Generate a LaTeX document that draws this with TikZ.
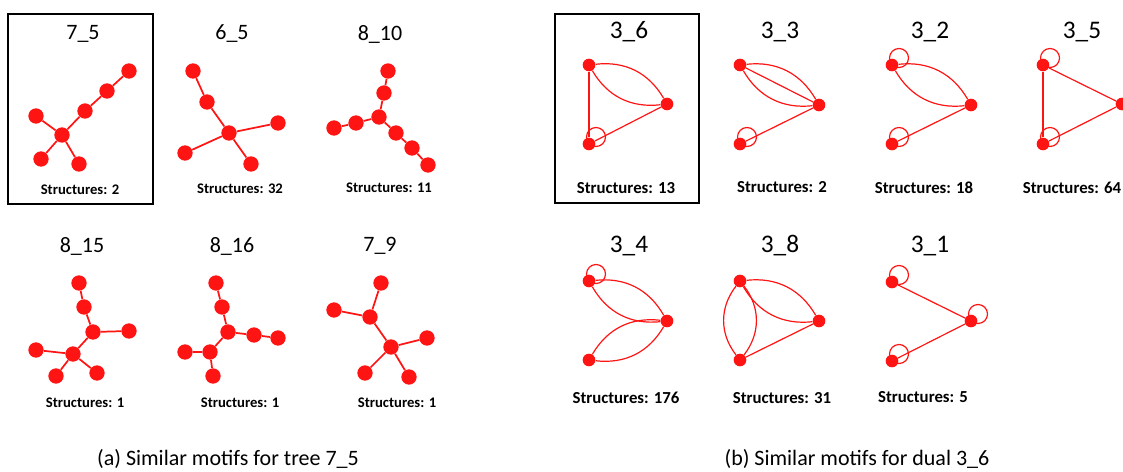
\documentclass[tikz,border=0pt]{standalone}
\usepackage{fontspec}
\setmainfont{Carlito}
\usepackage{tikz}
\usetikzlibrary{positioning}
\definecolor{motifred}{RGB}{255,20,20}
\tikzset{
  treenode/.style={circle,fill=motifred,draw=none,minimum size=11.5pt,inner sep=0pt},
  treeedge/.style={motifred,line width=1.3pt},
  dualnode/.style={circle,fill=motifred,draw=none,minimum size=9.5pt,inner sep=0pt},
  dualedge/.style={motifred,line width=0.9pt},
  selfloop/.style={motifred,line width=0.9pt},
  motiftitle/.style={font=\fontsize{16.5}{19}\selectfont,inner sep=0pt},
  dualtitle/.style={font=\fontsize{19}{22}\selectfont,inner sep=0pt},
  structcount/.style={font=\bfseries\fontsize{11}{13}\selectfont,inner sep=0pt},
  dualcount/.style={font=\bfseries\fontsize{12.6}{15}\selectfont,inner sep=0pt},
  subcaption/.style={font=\fontsize{16.5}{19}\selectfont,inner sep=0pt},
  framebox/.style={draw=black,line width=0.9pt}
}

\begin{document}
\begin{tikzpicture}[x=0.75pt,y=-0.75pt]
  \useasboundingbox (0,0) rectangle (1123,471);
  % tree 7_5
  \draw[framebox] (8,14) rectangle (153,204);
  \node[motiftitle] (lab75) at (83,34) {7\_5};
  \node[treenode] (a1) at (129,71) {};
  \node[treenode] (a2) at (107,91) {};
  \node[treenode] (a3) at (85,111) {};
  \node[treenode] (a4) at (62,135) {};
  \node[treenode] (a5) at (36,116) {};
  \node[treenode] (a6) at (41,159) {};
  \node[treenode] (a7) at (79,164) {};
  \draw[treeedge] (a1) -- (a2) -- (a3) -- (a4);
  \draw[treeedge] (a4) -- (a5);
  \draw[treeedge] (a4) -- (a6);
  \draw[treeedge] (a4) -- (a7);
  \node[structcount] (cnt75) at (80,190) {Structures: 2};
  % tree 6_5
  \node[motiftitle] (lab65) at (232,34) {6\_5};
  \node[treenode] (b1) at (193,71) {};
  \node[treenode] (b2) at (207,102) {};
  \node[treenode] (b3) at (229,133) {};
  \node[treenode] (b4) at (278,123) {};
  \node[treenode] (b5) at (185,153) {};
  \node[treenode] (b6) at (251,164) {};
  \draw[treeedge] (b1) -- (b2) -- (b3);
  \draw[treeedge] (b3) -- (b4);
  \draw[treeedge] (b3) -- (b5);
  \draw[treeedge] (b3) -- (b6);
  \node[structcount] (cnt65) at (240,189) {Structures: 32};
  % tree 8_10
  \node[motiftitle] (lab810) at (380,34) {8\_10};
  \node[treenode] (c1) at (388,71) {};
  \node[treenode] (c2) at (384,93) {};
  \node[treenode] (c3) at (379,117) {};
  \node[treenode] (c4) at (356,123) {};
  \node[treenode] (c5) at (334,128) {};
  \node[treenode] (c6) at (396,133) {};
  \node[treenode] (c7) at (412,148) {};
  \node[treenode] (c8) at (428,165) {};
  \draw[treeedge] (c1) -- (c2) -- (c3);
  \draw[treeedge] (c3) -- (c4) -- (c5);
  \draw[treeedge] (c3) -- (c6) -- (c7) -- (c8);
  \node[structcount] (cnt810) at (389,188) {Structures: 11};
  % tree 8_15
  \node[motiftitle] (lab815) at (82,246) {8\_15};
  \node[treenode] (d1) at (79,283) {};
  \node[treenode] (d2) at (84,307) {};
  \node[treenode] (d3) at (93,332) {};
  \node[treenode] (d4) at (129,331) {};
  \node[treenode] (d5) at (73,354) {};
  \node[treenode] (d6) at (36,350) {};
  \node[treenode] (d7) at (56,376) {};
  \node[treenode] (d8) at (97,373) {};
  \draw[treeedge] (d1) -- (d2) -- (d3);
  \draw[treeedge] (d3) -- (d4);
  \draw[treeedge] (d3) -- (d5);
  \draw[treeedge] (d5) -- (d6);
  \draw[treeedge] (d5) -- (d7);
  \draw[treeedge] (d5) -- (d8);
  \node[structcount] (cnt815) at (85,403) {Structures: 1};
  % tree 8_16
  \node[motiftitle] (lab816) at (232,246) {8\_16};
  \node[treenode] (e1) at (216,283) {};
  \node[treenode] (e2) at (222,307) {};
  \node[treenode] (e3) at (228,332) {};
  \node[treenode] (e4) at (254,335) {};
  \node[treenode] (e5) at (278,338) {};
  \node[treenode] (e6) at (210,352) {};
  \node[treenode] (e7) at (185,352) {};
  \node[treenode] (e8) at (213,376) {};
  \draw[treeedge] (e1) -- (e2) -- (e3);
  \draw[treeedge] (e3) -- (e4) -- (e5);
  \draw[treeedge] (e3) -- (e6);
  \draw[treeedge] (e6) -- (e7);
  \draw[treeedge] (e6) -- (e8);
  \node[structcount] (cnt816) at (240,403) {Structures: 1};
  % tree 7_9
  \node[motiftitle] (lab79) at (380,246) {7\_9};
  \node[treenode] (f1) at (381,283) {};
  \node[treenode] (f2) at (370,317) {};
  \node[treenode] (f3) at (334,310) {};
  \node[treenode] (f4) at (391,347) {};
  \node[treenode] (f5) at (427,338) {};
  \node[treenode] (f6) at (365,373) {};
  \node[treenode] (f7) at (409,377) {};
  \draw[treeedge] (f1) -- (f2);
  \draw[treeedge] (f2) -- (f3);
  \draw[treeedge] (f2) -- (f4);
  \draw[treeedge] (f4) -- (f5);
  \draw[treeedge] (f4) -- (f6);
  \draw[treeedge] (f4) -- (f7);
  \node[structcount] (cnt79) at (397,403) {Structures: 1};
  % dual 3_6
  \draw[framebox] (555,14) rectangle (699,203);
  \node[dualtitle] (lab36) at (629,32) {3\_6};
  \node[dualnode] (g1) at (589,65) {};
  \node[dualnode] (g2) at (667,104) {};
  \node[dualnode] (g3) at (589,144) {};
  \draw[dualedge] (g1) to[bend left=33] (g2);
  \draw[dualedge] (g1) to[bend right=33] (g2);
  \draw[dualedge] (g1) -- (g3);
  \draw[dualedge] (g3) -- (g2);
  \draw[selfloop] ([shift={(7,-7)}]g3.center) circle[radius=9.5];
  \node[dualcount] (cnt36) at (626,188) {Structures: 13};
  % dual 3_3
  \node[dualtitle] (lab33) at (780,32) {3\_3};
  \node[dualnode] (h1) at (740,65) {};
  \node[dualnode] (h2) at (819,105) {};
  \node[dualnode] (h3) at (740,144) {};
  \draw[dualedge] (h1) to[bend left=33] (h2);
  \draw[dualedge] (h1) to[bend right=33] (h2);
  \draw[dualedge] (h1) -- (h2);
  \draw[dualedge] (h3) -- (h2);
  \draw[selfloop] ([shift={(7,-7)}]h3.center) circle[radius=9.5];
  \node[dualcount] (cnt33) at (782,187) {Structures: 2};
  % dual 3_2
  \node[dualtitle] (lab32) at (930,32) {3\_2};
  \node[dualnode] (i1) at (892,65) {};
  \node[dualnode] (i2) at (971,105) {};
  \node[dualnode] (i3) at (892,144) {};
  \draw[dualedge] (i1) to[bend left=33] (i2);
  \draw[dualedge] (i1) to[bend right=33] (i2);
  \draw[dualedge] (i3) -- (i2);
  \draw[selfloop] ([shift={(7,-7)}]i1.center) circle[radius=9.5];
  \draw[selfloop] ([shift={(7,-7)}]i3.center) circle[radius=9.5];
  \node[dualcount] (cnt32) at (924,188) {Structures: 18};
  % dual 3_5
  \node[dualtitle] (lab35) at (1082,32) {3\_5};
  \node[dualnode] (j1) at (1043,65) {};
  \node[dualnode] (j2) at (1122,104) {};
  \node[dualnode] (j3) at (1043,144) {};
  \draw[dualedge] (j1) -- (j2);
  \draw[dualedge] (j1) -- (j3);
  \draw[dualedge] (j3) -- (j2);
  \draw[selfloop] ([shift={(7,-7)}]j1.center) circle[radius=9.5];
  \draw[selfloop] ([shift={(7,-7)}]j3.center) circle[radius=9.5];
  \node[dualcount] (cnt35) at (1072,188) {Structures: 64};
  % dual 3_4
  \node[dualtitle] (lab34) at (629,246) {3\_4};
  \node[dualnode] (k1) at (589,281) {};
  \node[dualnode] (k2) at (667,321) {};
  \node[dualnode] (k3) at (589,360) {};
  \draw[dualedge] (k1) to[bend left=33] (k2);
  \draw[dualedge] (k1) to[bend right=33] (k2);
  \draw[dualedge] (k3) to[bend left=33] (k2);
  \draw[dualedge] (k3) to[bend right=33] (k2);
  \draw[selfloop] ([shift={(7,-7)}]k1.center) circle[radius=9.5];
  \node[dualcount] (cnt34) at (626,398) {Structures: 176};
  % dual 3_8
  \node[dualtitle] (lab38) at (780,246) {3\_8};
  \node[dualnode] (l1) at (740,281) {};
  \node[dualnode] (l2) at (819,321) {};
  \node[dualnode] (l3) at (740,360) {};
  \draw[dualedge] (l1) to[bend left=33] (l2);
  \draw[dualedge] (l1) to[bend right=33] (l2);
  \draw[dualedge] (l1) to[bend left=38] (l3);
  \draw[dualedge] (l1) to[bend right=38] (l3);
  \draw[dualedge] (l3) -- (l2);
  \node[dualcount] (cnt38) at (782,398) {Structures: 31};
  % dual 3_1
  \node[dualtitle] (lab31) at (930,246) {3\_1};
  \node[dualnode] (m1) at (892,282) {};
  \node[dualnode] (m2) at (971,321) {};
  \node[dualnode] (m3) at (892,361) {};
  \draw[dualedge] (m1) -- (m2);
  \draw[dualedge] (m3) -- (m2);
  \draw[selfloop] ([shift={(7,-7)}]m1.center) circle[radius=9.5];
  \draw[selfloop] ([shift={(7,-7)}]m2.center) circle[radius=9.5];
  \draw[selfloop] ([shift={(7,-7)}]m3.center) circle[radius=9.5];
  \node[dualcount] (cnt31) at (923,397) {Structures: 5};
  % captions
  \node[subcaption] (capa) at (228,459) {(a) Similar motifs for tree 7\_5};
  \node[subcaption] (capb) at (857,459) {(b) Similar motifs for dual 3\_6};
\end{tikzpicture}
\end{document}
